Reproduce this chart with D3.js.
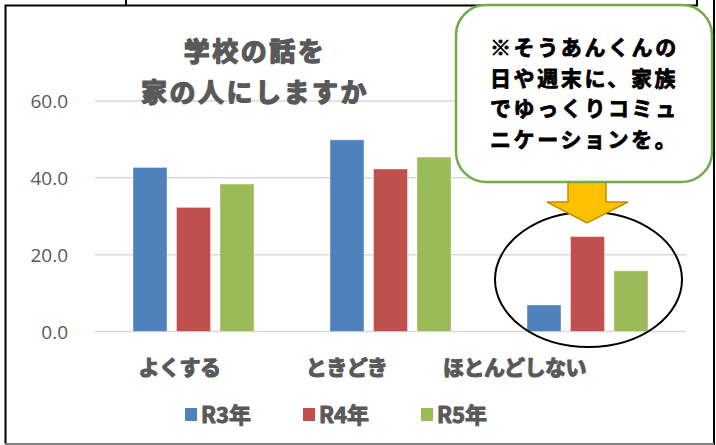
<!DOCTYPE html>
<html>
<head>
<meta charset="utf-8">
<script src="https://cdn.jsdelivr.net/npm/d3@7"></script>
<style>
  html, body { margin: 0; padding: 0; background: #fff; }
  svg { display: block; }
</style>
</head>
<body>
<div id="chart"></div>
<script>
// data
const categories = ["よくする", "ときどき", "ほとんどしない"];
const series = ["R3年", "R4年", "R5年"];
const r3 = [42.7, 49.9, 6.9];
const r4 = [32.3, 42.3, 24.7];
const r5 = [38.4, 45.4, 15.8];
const yTicks = [0, 20, 40, 60];
const titleLines = ["学校の話を", "家の人にしますか"];
const noteLines = ["※そうあんくんの", "日や週末に、家族", "でゆっくりコミュ", "ニケーションを。"];

const values = [r3, r4, r5];
const colors = ["#4f81bd", "#c0504d", "#9bbb59"];

const width = 716;
const height = 445;
const gray = "#595959";
const jp = "'Noto Sans CJK JP', 'Noto Sans', sans-serif";

const svg = d3.create("svg")
  .attr("width", width)
  .attr("height", height)
  .attr("viewBox", [0, 0, width, height]);

svg.append("rect").attr("width", width).attr("height", height).attr("fill", "#fff");

const x0 = d3.scaleBand().domain(categories).range([95, 686]);
const x1 = d3.scaleBand().domain(series).range([38, 159]).paddingInner(0.218);
const y = d3.scaleLinear().domain([0, 60]).range([331.5, 101]);

// heavy text: bold plus a thin stroke of the same colour
function heavy(sel, color, w) {
  sel.attr("fill", color)
    .attr("stroke", color)
    .attr("stroke-width", w)
    .attr("stroke-linejoin", "round")
    .attr("paint-order", "stroke")
    .attr("font-family", jp)
    .attr("font-weight", "bold");
}

// gridlines
svg.append("g")
  .selectAll("line")
  .data(yTicks)
  .join("line")
  .attr("x1", 95)
  .attr("x2", 686)
  .attr("y1", d => y(d))
  .attr("y2", d => y(d))
  .attr("stroke", "#d9d9d9")
  .attr("stroke-width", 1.5);

// y axis labels
const yAxis = svg.append("g")
  .attr("transform", "translate(68,0)")
  .call(d3.axisLeft(y).tickValues(yTicks).tickFormat(d3.format(".1f")).tickSize(0).tickPadding(0));
yAxis.select(".domain").remove();
yAxis.selectAll("text")
  .attr("fill", gray)
  .attr("font-family", "'Open Sans', 'Noto Sans', sans-serif")
  .attr("font-size", 19)
  .attr("dy", "0.35em");

// bars
const group = svg.append("g")
  .selectAll("g")
  .data(categories)
  .join("g")
  .attr("transform", d => `translate(${x0(d)},0)`);

group.selectAll("rect")
  .data((c, i) => series.map((s, j) => ({ s, v: values[j][i], color: colors[j] })))
  .join("rect")
  .attr("x", d => x1(d.s))
  .attr("y", d => y(d.v))
  .attr("width", x1.bandwidth())
  .attr("height", d => y(0) - y(d.v))
  .attr("fill", d => d.color)
  .attr("stroke", "#ffffff")
  .attr("stroke-opacity", 0.4)
  .attr("stroke-width", 1);

// category labels (shifted left like the original)
const labelShift = [-14, -44, -73];
svg.append("g")
  .selectAll("text")
  .data(categories)
  .join("text")
  .attr("x", (d, i) => x0(d) + x0.bandwidth() / 2 + labelShift[i])
  .attr("y", 375)
  .attr("text-anchor", "middle")
  .attr("font-size", 21)
  .attr("letter-spacing", -0.5)
  .call(heavy, gray, 1.2)
  .text(d => d);

// legend
const legend = svg.append("g")
  .selectAll("g")
  .data(series)
  .join("g")
  .attr("transform", (d, i) => `translate(${185 + i * 118},0)`);
legend.append("rect")
  .attr("y", 408)
  .attr("width", 12)
  .attr("height", 13)
  .attr("fill", (d, i) => colors[i]);
legend.append("text")
  .attr("x", 16)
  .attr("y", 423)
  .attr("font-size", 22)
  .call(heavy, gray, 1)
  .text(d => d);

// title
svg.append("g")
  .selectAll("text")
  .data(titleLines)
  .join("text")
  .attr("x", 255)
  .attr("y", (d, i) => 61 + i * 41)
  .attr("text-anchor", "middle")
  .attr("font-size", 26)
  .attr("letter-spacing", 2.5)
  .call(heavy, gray, 1.4)
  .text(d => d);

// ellipse round the last group
svg.append("ellipse")
  .attr("cx", 588.5)
  .attr("cy", 279.5)
  .attr("rx", 93.5)
  .attr("ry", 67.5)
  .attr("fill", "none")
  .attr("stroke", "#000")
  .attr("stroke-width", 2);

// arrow
svg.append("path")
  .attr("d", "M568,178 L606,178 L606,202 L628,202 L587,223 L547,202 L568,202 Z")
  .attr("fill", "#ffc000")
  .attr("stroke", "#bf9000")
  .attr("stroke-width", 1.5)
  .attr("stroke-linejoin", "miter");

// frame
const frame = svg.append("g").attr("fill", "none");
frame.append("path").attr("d", "M5.5,444 L5.5,5.5 L697,5.5 L697,0").attr("stroke", "#000").attr("stroke-width", 2);
frame.append("path").attr("d", "M126,0 L126,5").attr("stroke", "#000").attr("stroke-width", 2);
frame.append("path").attr("d", "M714,0 L714,445").attr("stroke", "#000").attr("stroke-width", 2);
frame.append("path").attr("d", "M5,444 L714,444").attr("stroke", "#808080").attr("stroke-width", 2);

// callout box
svg.append("rect")
  .attr("x", 456)
  .attr("y", 5)
  .attr("width", 256)
  .attr("height", 177)
  .attr("rx", 30)
  .attr("fill", "#fff")
  .attr("stroke", "#70ad47")
  .attr("stroke-width", 2.5);

svg.append("g")
  .selectAll("text")
  .data(noteLines)
  .join("text")
  .attr("x", 490)
  .attr("y", (d, i) => 55 + i * 30.5)
  .attr("font-size", 21)
  .attr("letter-spacing", 2.6)
  .call(heavy, "#000", 0.8)
  .text(d => d);

document.getElementById("chart").appendChild(svg.node());
</script>
</body>
</html>
